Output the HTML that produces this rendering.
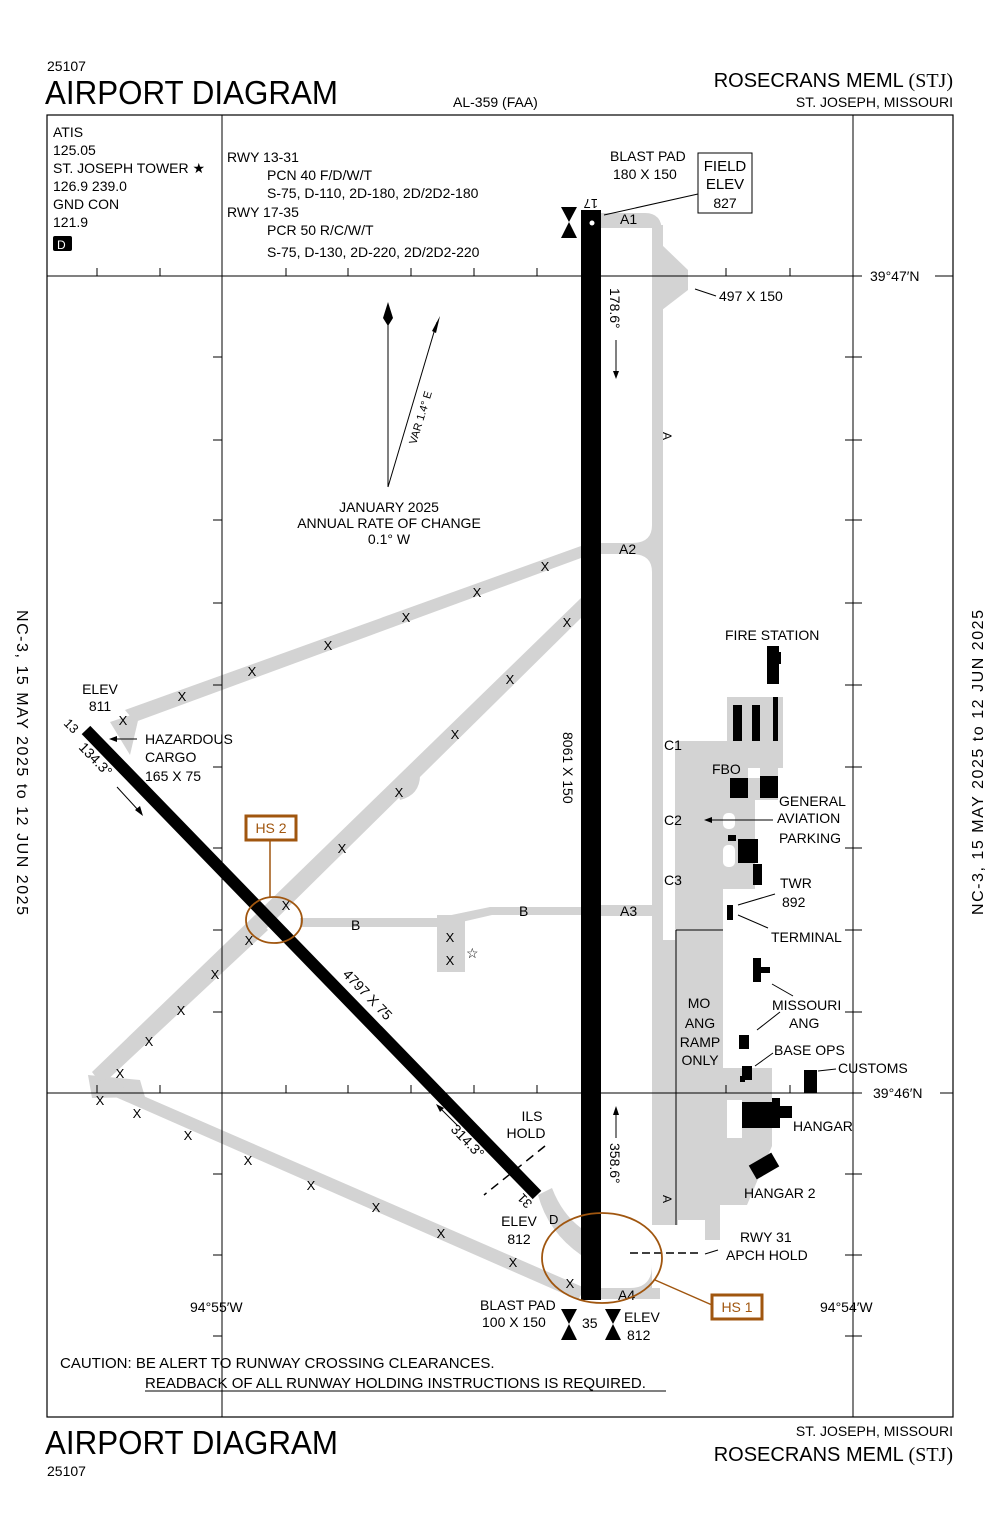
<!DOCTYPE html>
<html><head><meta charset="utf-8"><style>
html,body{margin:0;padding:0;background:#fff}
svg{display:block}
text{font-family:"Liberation Sans",sans-serif;fill:#000}
</style></head><body>
<svg width="1000" height="1533" viewBox="0 0 1000 1533" xmlns="http://www.w3.org/2000/svg">
<!-- header -->
<text x="47" y="71" font-size="14">25107</text>
<text x="45" y="104" font-size="33" textLength="293" lengthAdjust="spacingAndGlyphs">AIRPORT DIAGRAM</text>
<text x="453" y="107" font-size="14">AL-359 (FAA)</text>
<text x="953" y="87" font-size="20" text-anchor="end">ROSECRANS MEML <tspan font-family="Liberation Serif">(STJ)</tspan></text>
<text x="953" y="107" font-size="14" text-anchor="end">ST. JOSEPH, MISSOURI</text>
<!-- footer -->
<text x="45" y="1454" font-size="33" textLength="293" lengthAdjust="spacingAndGlyphs">AIRPORT DIAGRAM</text>
<text x="47" y="1476" font-size="14">25107</text>
<text x="953" y="1436" font-size="14" text-anchor="end">ST. JOSEPH, MISSOURI</text>
<text x="953" y="1461" font-size="20" text-anchor="end">ROSECRANS MEML <tspan font-family="Liberation Serif">(STJ)</tspan></text>
<!-- side texts -->
<text transform="translate(17,610) rotate(90)" font-size="16" textLength="305" lengthAdjust="spacing">NC-3,  15 MAY 2025  to  12 JUN 2025</text>
<text transform="translate(983,915) rotate(-90)" font-size="16" textLength="305" lengthAdjust="spacing">NC-3,  15 MAY 2025  to  12 JUN 2025</text>

<!-- gray pavement -->
<g fill="#d3d3d3" stroke="none">
<rect x="652" y="225" width="11" height="1000"/>
<path d="M600 213 H645 Q662 213 662 232 V240 H652 V228 H600Z"/>
<path d="M662 245 L688 270 L688 290 L662 310Z"/>
<rect x="600" y="543" width="55" height="11"/>
<path d="M632 543 Q652 543 652 525 V572 Q652 554 632 554Z"/>
<rect x="600" y="905" width="55" height="11"/>
<rect x="600" y="1288" width="60" height="11"/>
<path d="M630 1288 Q652 1288 652 1265 V1299 H630Z"/>
<!-- ramp -->
<rect x="727" y="697" width="56" height="44"/>
<rect x="675" y="741" width="108" height="27"/>
<rect x="675" y="741" width="48" height="352"/>
<rect x="723" y="768" width="55" height="32"/>
<rect x="723" y="800" width="32" height="89"/>
<rect x="723" y="1068" width="49" height="25"/>
<rect x="660" y="940" width="15" height="285"/>
<rect x="660" y="1093" width="112" height="45"/>
<polygon points="660,1138 772,1138 772,1146 747,1205 720,1205 720,1240 705,1240 705,1220 678,1220 678,1225 660,1225"/>
<!-- loop taxiways -->
<polygon points="581,546 581,558 135,722 125,710"/>
<polygon points="581,598 581,618 265,930 255,915"/>
<path d="M395 780 Q410 760 420 775 Q420 795 400 800Z"/>
<polygon points="255,915 268,930 102,1085 92,1072"/>
<polygon points="88,1075 140,1080 145,1097 92,1098"/>
<polygon points="95,1088 102,1078 585,1288 578,1300"/>
<polygon points="110,722 140,712 130,755"/>
<path d="M300 918 H437 L490 907 H581 V915 H492 L440 927 H300Z"/>
<rect x="437" y="915" width="28" height="57"/>
<path d="M538 1195 Q548 1232 581 1255 V1228 Q562 1214 552 1188Z"/>
</g>
<!-- white holes in ramp -->
<g fill="#fff">
<rect x="727" y="1100" width="15" height="38"/>
<rect x="723" y="813" width="12" height="16" rx="5"/>
<rect x="723" y="845" width="12" height="22" rx="5"/>
<rect x="748" y="768" width="12" height="10"/>
</g>
<line x1="676" y1="930" x2="676" y2="1225" stroke="#000"/>
<line x1="676" y1="930" x2="723" y2="930" stroke="#000"/>

<!-- frame -->
<rect x="47" y="115" width="906" height="1302" fill="none" stroke="#000" stroke-width="1.2"/>
<line x1="222" y1="115" x2="222" y2="1417" stroke="#000"/>
<line x1="853" y1="115" x2="853" y2="1417" stroke="#000"/>
<line x1="47" y1="276" x2="862" y2="276" stroke="#000"/>
<line x1="935" y1="276" x2="953" y2="276" stroke="#000"/>
<line x1="47" y1="1093" x2="862" y2="1093" stroke="#000"/>
<line x1="940" y1="1093" x2="953" y2="1093" stroke="#000"/>
<text x="870" y="281" font-size="14">39°47′N</text>
<text x="873" y="1098" font-size="14">39°46′N</text>
<text x="190" y="1312" font-size="14">94°55′W</text>
<text x="820" y="1312" font-size="14">94°54′W</text>
<g stroke="#000" stroke-width="1">
<path d="M97 268V276M160 268V276M286 268V276M348 268V276M411 268V276M474 268V276M537 268V276M726 268V276M790 268V276"/>
<path d="M213 357H222M213 440H222M213 520H222M213 603H222M213 685H222M213 767H222M213 848H222M213 930H222M213 1012H222M213 1174H222M213 1255H222M213 1336H222"/>
<path d="M845 357H862M845 440H862M845 520H862M845 603H862M845 685H862M845 767H862M845 848H862M845 930H862M845 1012H862M845 1174H862M845 1255H862M845 1336H862"/>
<path d="M97 1085V1093M160 1085V1093M286 1085V1093M348 1085V1093M411 1085V1093M474 1085V1093M537 1085V1093M726 1085V1093M790 1085V1093"/>
</g>

<!-- info -->
<g font-size="14">
<text x="53" y="137">ATIS</text>
<text x="53" y="155">125.05</text>
<text x="53" y="173">ST. JOSEPH TOWER ★</text>
<text x="53" y="191">126.9  239.0</text>
<text x="53" y="209">GND CON</text>
<text x="53" y="227">121.9</text>
<rect x="53" y="236" width="19" height="15" rx="2" fill="#000"/>
<text x="57" y="249" style="fill:#fff" font-size="12">D</text>
<text x="227" y="162">RWY 13-31</text>
<text x="267" y="180">PCN 40 F/D/W/T</text>
<text x="267" y="198">S-75, D-110, 2D-180, 2D/2D2-180</text>
<text x="227" y="217">RWY 17-35</text>
<text x="267" y="235">PCR 50 R/C/W/T</text>
<text x="267" y="257">S-75, D-130, 2D-220, 2D/2D2-220</text>
</g>

<!-- magnetic north -->
<line x1="388" y1="318" x2="388" y2="487" stroke="#000"/>
<path d="M388 302 L393 318 L388 326 L383 318Z" fill="#000"/>
<line x1="388" y1="487" x2="437" y2="322" stroke="#000"/>
<path d="M440 316 L436 333 L432 331Z" fill="#000"/>
<text transform="translate(416,445) rotate(-73)" font-size="11">VAR 1.4° E</text>
<g font-size="14" text-anchor="middle">
<text x="389" y="512">JANUARY 2025</text>
<text x="389" y="528">ANNUAL RATE OF CHANGE</text>
<text x="389" y="544">0.1° W</text>
</g>

<!-- X marks -->
<g font-size="13" text-anchor="middle">
<text x="123" y="725">X</text><text x="182" y="701">X</text><text x="252" y="676">X</text><text x="328" y="650">X</text><text x="406" y="622">X</text><text x="477" y="597">X</text><text x="545" y="571">X</text>
<text x="567" y="627">X</text><text x="510" y="684">X</text><text x="455" y="739">X</text><text x="399" y="797">X</text><text x="342" y="853">X</text><text x="286" y="910">X</text>
<text x="249" y="945">X</text><text x="215" y="979">X</text><text x="181" y="1015">X</text><text x="149" y="1046">X</text><text x="120" y="1078">X</text>
<text x="100" y="1105">X</text><text x="137" y="1118">X</text><text x="188" y="1140">X</text><text x="248" y="1165">X</text><text x="311" y="1190">X</text><text x="376" y="1212">X</text><text x="441" y="1238">X</text><text x="513" y="1267">X</text><text x="570" y="1288">X</text>
<text x="450" y="942">X</text><text x="450" y="965">X</text>
</g>
<text x="466" y="958" font-size="14">☆</text>

<!-- runways -->
<rect x="581" y="210" width="20" height="1090" fill="#000"/>
<circle cx="592" cy="223" r="2.5" fill="#fff"/>
<line x1="86" y1="730" x2="537" y2="1195" stroke="#000" stroke-width="12"/>

<path d="M561 207 H577 L569 222Z M561 238 H577 L569 222Z" fill="#000"/>
<path d="M561 1309 H577 L569 1324Z M561 1340 H577 L569 1324Z" fill="#000"/>
<path d="M605 1309 H621 L613 1324Z M605 1340 H621 L613 1324Z" fill="#000"/>

<!-- labels -->
<g font-size="14">
<text x="610" y="161">BLAST PAD</text>
<text x="613" y="179">180 X 150</text>
<rect x="698" y="153" width="54" height="60" fill="#fff" stroke="#000"/>
<text x="725" y="171" text-anchor="middle" font-size="15">FIELD</text>
<text x="725" y="189" text-anchor="middle" font-size="15">ELEV</text>
<text x="725" y="208" text-anchor="middle">827</text>
<line x1="698" y1="194" x2="604" y2="215" stroke="#000"/>
<text transform="translate(598,199) rotate(180)" font-size="13">17</text>
<text x="620" y="224">A1</text>
<text x="719" y="301">497 X 150</text>
<line x1="716" y1="296" x2="695" y2="289" stroke="#000"/>
<text transform="translate(610,288) rotate(90)">178.6°</text>
<line x1="616" y1="340" x2="616" y2="373" stroke="#000"/>
<path d="M613 371 L616 379 L619 371Z" fill="#000"/>
<text transform="translate(663,432) rotate(90)" font-size="12">A</text>
<text x="619" y="554">A2</text>
<text x="620" y="916">A3</text>
<text x="618" y="1300">A4</text>
<text transform="translate(563,732) rotate(90)">8061 X 150</text>
<text x="664" y="750">C1</text>
<text x="664" y="825">C2</text>
<text x="664" y="885">C3</text>
<text x="351" y="930">B</text>
<text x="519" y="916">B</text>
<text x="725" y="640">FIRE STATION</text>
<text x="712" y="774">FBO</text>
<text x="779" y="806">GENERAL</text>
<text x="777" y="823">AVIATION</text>
<text x="779" y="843">PARKING</text>
<line x1="773" y1="820" x2="710" y2="820" stroke="#000"/>
<path d="M704 820 L712 817 L712 823Z" fill="#000"/>
<text x="780" y="888">TWR</text>
<text x="782" y="907">892</text>
<text x="771" y="942">TERMINAL</text>
<line x1="775" y1="894" x2="738" y2="905" stroke="#000"/>
<line x1="768" y1="928" x2="738" y2="915" stroke="#000"/>
<text x="772" y="1010">MISSOURI</text>
<text x="789" y="1028">ANG</text>
<line x1="793" y1="996" x2="772" y2="984" stroke="#000"/>
<line x1="780" y1="1012" x2="757" y2="1030" stroke="#000"/>
<text x="774" y="1055">BASE OPS</text>
<line x1="773" y1="1053" x2="755" y2="1066" stroke="#000"/>
<text x="838" y="1073">CUSTOMS</text>
<line x1="836" y1="1069" x2="818" y2="1071" stroke="#000"/>
<text x="793" y="1131">HANGAR</text>
<text x="744" y="1198">HANGAR 2</text>
<text x="740" y="1242">RWY 31</text>
<text x="726" y="1260">APCH HOLD</text>
<line x1="718" y1="1250" x2="705" y2="1254" stroke="#000"/>
<line x1="630" y1="1253" x2="698" y2="1253" stroke="#000" stroke-width="1.5" stroke-dasharray="8,4"/>
<g text-anchor="middle">
<text x="699" y="1008">MO</text>
<text x="700" y="1028">ANG</text>
<text x="700" y="1047">RAMP</text>
<text x="700" y="1065">ONLY</text>
</g>
<text transform="translate(610,1143) rotate(90)">358.6°</text>
<line x1="616" y1="1112" x2="616" y2="1138" stroke="#000"/>
<path d="M613 1115 L616 1106 L619 1115Z" fill="#000"/>
<text transform="translate(663,1195) rotate(90)" font-size="12">A</text>
<text x="100" y="694" text-anchor="middle">ELEV</text>
<text x="100" y="711" text-anchor="middle">811</text>
<text transform="translate(63,724) rotate(45)" font-size="13">13</text>
<text x="145" y="744">HAZARDOUS</text>
<text x="145" y="762">CARGO</text>
<text x="145" y="781">165 X 75</text>
<line x1="137" y1="739" x2="115" y2="739" stroke="#000"/>
<path d="M109 739 L117 736 L117 742Z" fill="#000"/>
<text transform="translate(78,748) rotate(46)" font-size="14">134.3°</text>
<line x1="117" y1="787" x2="139" y2="811" stroke="#000"/>
<path d="M143 816 L135 810 L140 806Z" fill="#000"/>
<text transform="translate(342,975) rotate(46)">4797 X 75</text>
<text x="532" y="1121" text-anchor="middle">ILS</text>
<text x="526" y="1138" text-anchor="middle">HOLD</text>
<line x1="545" y1="1146" x2="484" y2="1195" stroke="#000" stroke-width="1.5" stroke-dasharray="9,6"/>
<text transform="translate(450,1130) rotate(46)" font-size="14">314.3°</text>
<line x1="458" y1="1126" x2="440" y2="1108" stroke="#000"/>
<path d="M436 1104 L444 1108 L440 1112Z" fill="#000"/>
<text transform="translate(533,1203) rotate(-134)" font-size="13">31</text>
<text x="549" y="1224" font-size="13">D</text>
<text x="519" y="1226" text-anchor="middle">ELEV</text>
<text x="519" y="1244" text-anchor="middle">812</text>
<text x="480" y="1310">BLAST PAD</text>
<text x="482" y="1327">100 X 150</text>
<text x="582" y="1328">35</text>
<text x="624" y="1322">ELEV</text>
<text x="627" y="1340">812</text>
<text x="60" y="1368" font-size="15">CAUTION: BE ALERT TO RUNWAY CROSSING CLEARANCES.</text>
<text x="145" y="1388" font-size="15">READBACK OF ALL RUNWAY HOLDING INSTRUCTIONS IS REQUIRED.</text>
<line x1="145" y1="1391" x2="666" y2="1391" stroke="#000"/>
</g>

<!-- buildings -->
<g fill="#000">
<rect x="767" y="646" width="12" height="38"/>
<rect x="776" y="652" width="5" height="12"/>
<rect x="733" y="705" width="9" height="36"/>
<rect x="752" y="705" width="8" height="36"/>
<rect x="773" y="697" width="5" height="44"/>
<rect x="730" y="778" width="18" height="20"/>
<rect x="760" y="776" width="18" height="22"/>
<rect x="728" y="835" width="8" height="6"/>
<rect x="738" y="839" width="20" height="24"/>
<rect x="753" y="864" width="9" height="21"/>
<rect x="727" y="905" width="6" height="15"/>
<rect x="753" y="958" width="8" height="24"/>
<rect x="753" y="967" width="17" height="6"/>
<rect x="739" y="1035" width="10" height="14"/>
<rect x="742" y="1066" width="10" height="14"/>
<rect x="740" y="1076" width="5" height="6"/>
<rect x="804" y="1070" width="13" height="23"/>
<rect x="742" y="1102" width="38" height="26"/>
<rect x="772" y="1106" width="20" height="12"/>
<rect x="772" y="1098" width="8" height="5"/>
<rect x="751" y="1158" width="26" height="16" transform="rotate(-30 764 1166)"/>
</g>

<!-- hot spots -->
<ellipse cx="274" cy="920" rx="28" ry="23" fill="none" stroke="#a0560f" stroke-width="1.8"/>
<line x1="270" y1="840" x2="270" y2="897" stroke="#a0560f" stroke-width="1.5"/>
<rect x="246" y="816" width="50" height="24" fill="#fff" stroke="#a0560f" stroke-width="3"/>
<text x="271" y="833" text-anchor="middle" font-size="14" style="fill:#a0560f">HS 2</text>
<ellipse cx="602" cy="1258" rx="60" ry="45" fill="none" stroke="#a0560f" stroke-width="1.8"/>
<line x1="655" y1="1280" x2="712" y2="1305" stroke="#a0560f" stroke-width="1.5"/>
<rect x="712" y="1295" width="50" height="24" fill="#fff" stroke="#a0560f" stroke-width="3"/>
<text x="737" y="1312" text-anchor="middle" font-size="14" style="fill:#a0560f">HS 1</text>
</svg>
</body></html>
